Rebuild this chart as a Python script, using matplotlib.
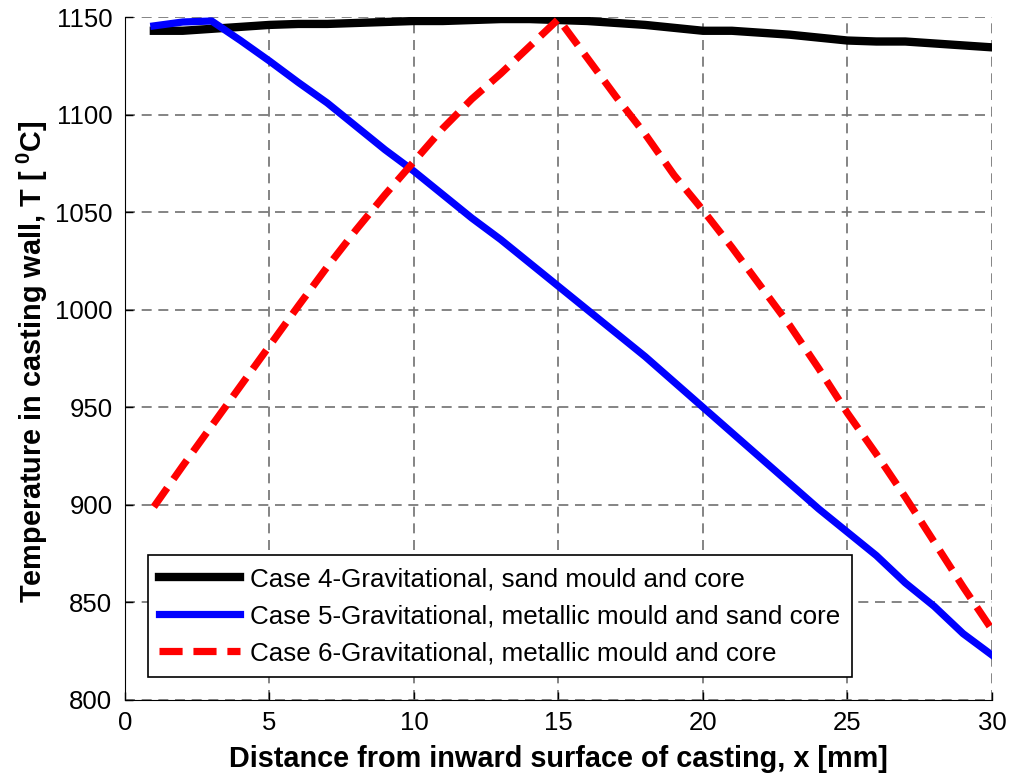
import numpy as np
import matplotlib
matplotlib.use('Agg')
import matplotlib.pyplot as plt

plt.rcParams['font.family'] = ['Liberation Sans', 'DejaVu Sans']
plt.rcParams['mathtext.fontset'] = 'custom'
plt.rcParams['mathtext.rm'] = 'Liberation Sans'
plt.rcParams['mathtext.bf'] = 'Liberation Sans:bold'

# Distance from inward surface [mm]
x = np.arange(1, 31)

# Case 4 - sand mould and core
case4 = [1143, 1143, 1144, 1145, 1146, 1146.5, 1146.5, 1147, 1147.5, 1148,
         1148, 1148.5, 1149, 1149, 1148.5, 1148, 1147, 1146, 1144.5, 1143,
         1143, 1142, 1141, 1139.5, 1138, 1137.5, 1137.5, 1136.5, 1135.5, 1134.5]
# Case 5 - metallic mould and sand core
case5 = [1145.5, 1147.5, 1148, 1138, 1127.5, 1116.5, 1106, 1094, 1082, 1071,
         1059, 1047, 1036, 1024, 1012, 1000, 988, 976, 963, 950,
         937, 924, 911, 898, 886, 874, 860, 848, 834, 823]
# Case 6 - metallic mould and core
case6 = [899, 920, 940.5, 961, 981.5, 1002, 1022, 1041, 1059, 1076,
         1093, 1108, 1121, 1135, 1149, 1129, 1109, 1090, 1069, 1051,
         1032, 1012, 992, 970, 947, 926, 904, 881, 858, 836]

labels = ['Case 4-Gravitational, sand mould and core',
          'Case 5-Gravitational, metallic mould and sand core',
          'Case 6-Gravitational, metallic mould and core']

fig = plt.figure(figsize=(10.11, 7.78), dpi=100)
ax = fig.add_axes([0.1236, 0.1003, 0.8576, 0.8777])

ax.plot(x, case4, color='black', lw=6, label=labels[0], solid_joinstyle='round')
ax.plot(x, case5, color='blue', lw=5.2, label=labels[1], solid_joinstyle='round')
ax.plot(x, case6, color='red', lw=5.2, ls='--', dashes=(3.2, 1.5), label=labels[2])

ax.set_xlim(0, 30)
ax.set_ylim(800, 1150)
ax.set_xticks(np.arange(0, 31, 5))
ax.set_yticks(np.arange(800, 1151, 50))
ax.grid(True, ls=(0, (6, 4)), color='#707070', lw=1.2)
ax.spines['top'].set_visible(False)
ax.spines['right'].set_visible(False)
ax.tick_params(direction='in', length=6, labelsize=18.5, width=1)
ax.tick_params(axis='y', pad=9)
ax.tick_params(axis='x', pad=8)

ax.set_xlabel('Distance from inward surface of casting, x [mm]', fontsize=20.8, fontweight='bold', labelpad=7)
ax.set_ylabel(r'Temperature in casting wall, T [ $\mathbf{^{0}}$C]', fontsize=20.8, fontweight='bold')
ax.yaxis.set_label_coords(-0.087, 0.495)

leg = ax.legend(loc='lower left', bbox_to_anchor=(0.026, 0.034), fontsize=18.7, handlelength=3.1,
                fancybox=False, framealpha=1, edgecolor='black', borderpad=0.45, labelspacing=0.5,
                handletextpad=0.4, borderaxespad=0)
leg.get_frame().set_linewidth(1.2)

fig.savefig('out.png', dpi=100)
